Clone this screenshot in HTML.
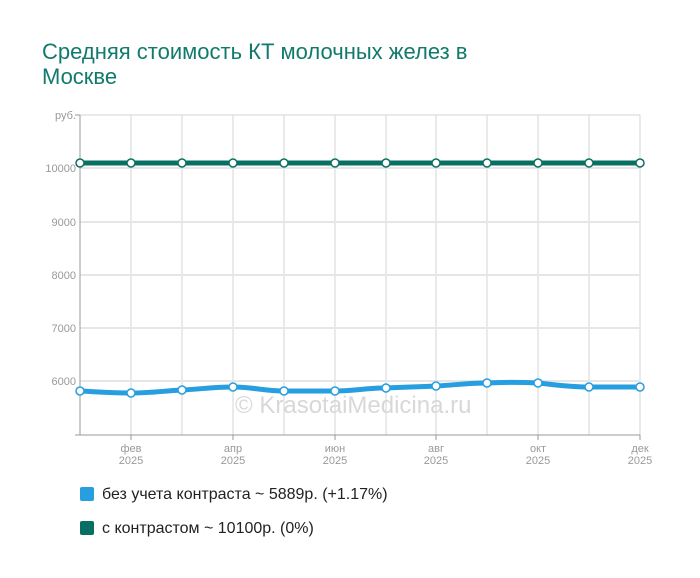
<!DOCTYPE html>
<html><head><meta charset="utf-8"><style>
body{margin:0;background:#fff;width:700px;height:578px;overflow:hidden;font-family:"Liberation Sans",sans-serif}
.t{position:absolute;left:42px;top:39px;font-size:22px;line-height:25px;color:#127a6c}
.lg{position:absolute;left:80px;font-size:16px;color:#222}
.lg span{display:inline-block;width:14px;height:14px;border-radius:2px;vertical-align:-2px;margin-right:8px}
</style></head><body>
<div class="t">Средняя стоимость КТ молочных желез в<br>Москве</div>
<svg width="700" height="578" style="position:absolute;left:0;top:0">
<g stroke="#d4d4d4" stroke-width="1">
<line x1="131" y1="115" x2="131" y2="435"/><line x1="182" y1="115" x2="182" y2="435"/><line x1="233" y1="115" x2="233" y2="435"/><line x1="284" y1="115" x2="284" y2="435"/><line x1="335" y1="115" x2="335" y2="435"/><line x1="386" y1="115" x2="386" y2="435"/><line x1="436" y1="115" x2="436" y2="435"/><line x1="487" y1="115" x2="487" y2="435"/><line x1="538" y1="115" x2="538" y2="435"/><line x1="589" y1="115" x2="589" y2="435"/><line x1="640" y1="115" x2="640" y2="435"/>
<line x1="80" y1="115" x2="640" y2="115"/>
</g>
<g stroke="#e6e6e6" stroke-width="2">
<line x1="80" y1="168" x2="640" y2="168"/><line x1="80" y1="222" x2="640" y2="222"/><line x1="80" y1="275" x2="640" y2="275"/><line x1="80" y1="328" x2="640" y2="328"/><line x1="80" y1="381" x2="640" y2="381"/>
</g>
<g stroke="#999" stroke-width="1">
<line x1="80" y1="115" x2="80" y2="435"/><line x1="75" y1="435" x2="640" y2="435"/>
<line x1="75" y1="115" x2="80" y2="115"/>
<line x1="131" y1="435" x2="131" y2="440"/><line x1="233" y1="435" x2="233" y2="440"/><line x1="335" y1="435" x2="335" y2="440"/><line x1="436" y1="435" x2="436" y2="440"/><line x1="538" y1="435" x2="538" y2="440"/><line x1="640" y1="435" x2="640" y2="440"/>
</g>
<g font-size="11" fill="#999" text-anchor="end">
<text x="76" y="119">руб.</text><text x="76" y="172">10000</text><text x="76" y="226">9000</text><text x="76" y="279">8000</text><text x="76" y="332">7000</text><text x="76" y="385">6000</text>
</g>
<g font-size="11" fill="#999" text-anchor="middle">
<text x="131" y="452">фев</text><text x="131" y="464">2025</text>
<text x="233" y="452">апр</text><text x="233" y="464">2025</text>
<text x="335" y="452">июн</text><text x="335" y="464">2025</text>
<text x="436" y="452">авг</text><text x="436" y="464">2025</text>
<text x="538" y="452">окт</text><text x="538" y="464">2025</text>
<text x="640" y="452">дек</text><text x="640" y="464">2025</text>
</g>
<text x="235" y="413" font-size="24" fill="#d8d8d8">© KrasotaiMedicina.ru</text>
<line x1="80" y1="163" x2="640" y2="163" stroke="#0a6f63" stroke-width="5"/>
<path d="M80,391 C100,392 111,393 131,393 C152,393 162,391 182,390 C202,389 213,387 233,387 C253,387 264,391 284,391 C305,391 315,391 335,391 C355,391 366,388 386,388 C406,387 416,387 436,386 C456,385 467,383 487,383 C507,382 518,382 538,383 C558,385 569,387 589,387 C609,387 620,387 640,387" fill="none" stroke="#269ee0" stroke-width="5"/>
<g fill="#fff" stroke="#0a6f63" stroke-width="1.5">
<circle cx="80" cy="163" r="4"/><circle cx="131" cy="163" r="4"/><circle cx="182" cy="163" r="4"/><circle cx="233" cy="163" r="4"/><circle cx="284" cy="163" r="4"/><circle cx="335" cy="163" r="4"/><circle cx="386" cy="163" r="4"/><circle cx="436" cy="163" r="4"/><circle cx="487" cy="163" r="4"/><circle cx="538" cy="163" r="4"/><circle cx="589" cy="163" r="4"/><circle cx="640" cy="163" r="4"/>
</g>
<g fill="#fff" stroke="#269ee0" stroke-width="1.5">
<circle cx="80" cy="391" r="4"/><circle cx="131" cy="393" r="4"/><circle cx="182" cy="390" r="4"/><circle cx="233" cy="387" r="4"/><circle cx="284" cy="391" r="4"/><circle cx="335" cy="391" r="4"/><circle cx="386" cy="388" r="4"/><circle cx="436" cy="386" r="4"/><circle cx="487" cy="383" r="4"/><circle cx="538" cy="383" r="4"/><circle cx="589" cy="387" r="4"/><circle cx="640" cy="387" r="4"/>
</g>
</svg>
<div class="lg" style="top:486px"><span style="background:#269ee0"></span>без учета контраста ~ 5889р. (+1.17%)</div>
<div class="lg" style="top:520px"><span style="background:#0a6f63"></span>с контрастом ~ 10100р. (0%)</div>
</body></html>
